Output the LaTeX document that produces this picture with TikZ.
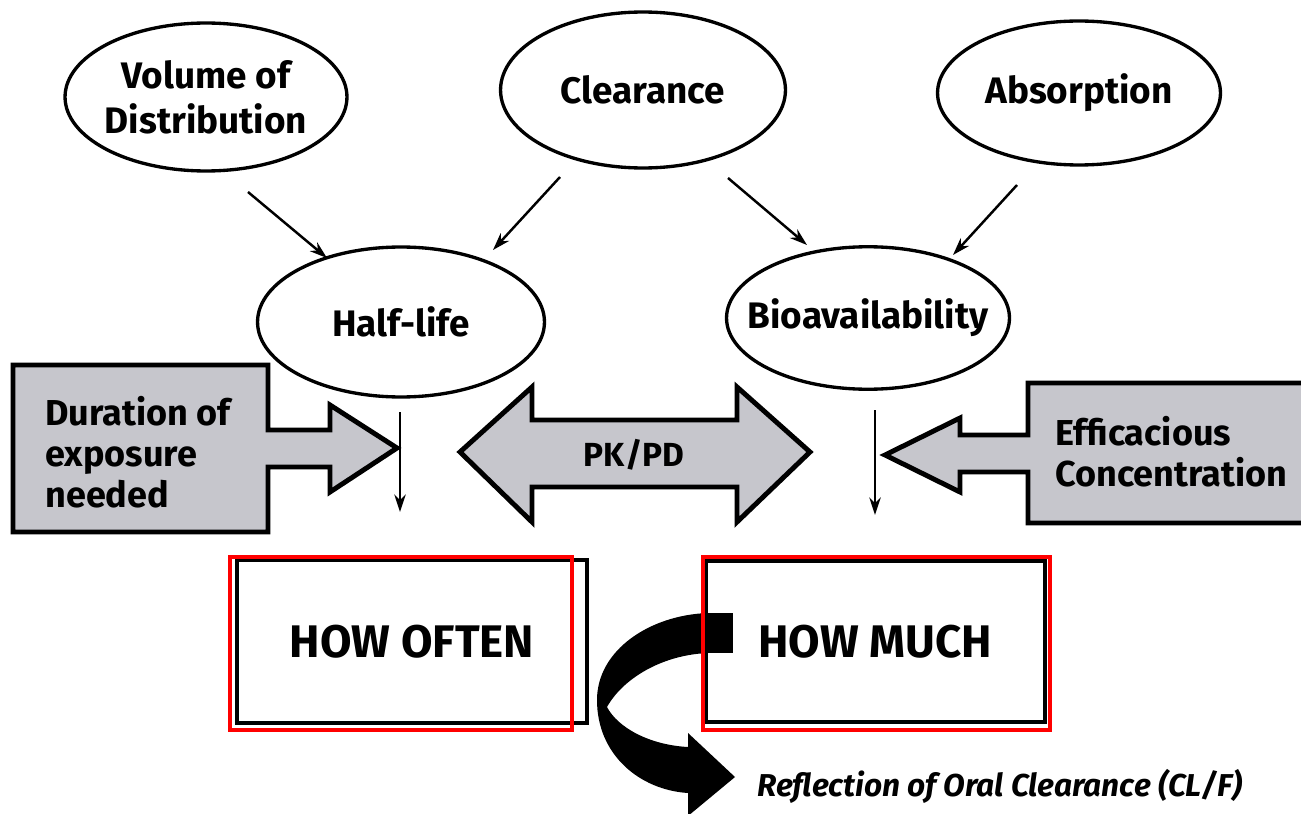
\documentclass[tikz,border=0pt]{standalone}
\usepackage{fontspec}
\setmainfont{Fira Sans}
\usetikzlibrary{shapes.geometric,calc,arrows.meta}
\definecolor{fatgray}{RGB}{198,198,204}
\definecolor{boxred}{RGB}{255,0,0}
\begin{document}
\begin{tikzpicture}[x=0.02cm,y=-0.02cm,
  oval/.style={ellipse,draw,line width=1.9pt,inner xsep=-18pt,inner ysep=0pt,align=center,
    font=\bfseries\fontsize{21}{25.5}\selectfont},
  thinarr/.style={-{Stealth[length=10pt,width=6.5pt]},line width=1.4pt},
  fat/.style={fill=fatgray,draw,line width=2.8pt,line join=miter},
  lbl/.style={font=\bfseries\fontsize{20.5}{23.5}\selectfont,align=left,inner sep=0pt},
  qbox/.style={draw,line width=2.8pt,inner sep=0pt,
    font=\bfseries\fontsize{26}{30}\selectfont},
  redbox/.style={draw=boxred,line width=2.3pt}
]
\useasboundingbox (0,0) rectangle (1301,814);
\clip (0,0) rectangle (1301,814);
\fill[white] (0,0) rectangle (1301,814);

% ellipses
\node[oval,minimum width=5.64cm,minimum height=2.96cm] (vd) at (206,97) {Volume of\\Distribution};
\node[oval,minimum width=5.7cm,minimum height=3.12cm] (cl) at (643,90) {Clearance};
\node[oval,minimum width=5.66cm,minimum height=2.88cm] (ab) at (1079,93) {Absorption};
\node[oval,minimum width=5.74cm,minimum height=3.0cm] (hl) at (401,322) {Half-life};
\node[oval,minimum width=5.66cm,minimum height=2.85cm] (bio) at (868,318) {Bioavailability};

% thin arrows
\draw[thinarr] ($(vd.center)+(42,95)$) -- ($(hl.center)+(-74,-64)$);
\draw[thinarr] ($(cl.center)+(-83,87)$) -- ($(hl.center)+(92,-72)$);
\draw[thinarr] ($(cl.center)+(85,88)$) -- ($(bio.center)+(-61,-73)$);
\draw[thinarr] ($(ab.center)+(-62,92)$) -- ($(bio.center)+(85,-63)$);

% boxes
\node[qbox,minimum width=7cm,minimum height=3.26cm] (often) at (412,641.5) {HOW OFTEN};
\node[qbox,minimum width=6.8cm,minimum height=3.22cm] (much) at (875,641.5) {HOW MUCH};

% vertical arrows
\draw[thinarr] ($(hl.center)+(-1,90)$) -- ($(hl.center)+(-1,190)$);
\draw[thinarr] ($(bio.center)+(7,92)$) -- ($(bio.center)+(7,197)$);

% fat arrows
\draw[fat] (13,365) -- (268,365) -- (268,430) -- (330,430) -- (330,405) -- (397,448)
  -- (330,492) -- (330,467) -- (268,467) -- (268,532) -- (13,532) -- cycle;
\node[lbl,anchor=west] (dur) at (45,452) {Duration of\\exposure\\needed};

\draw[fat] (1028,383) -- (1320,383) -- (1320,523) -- (1028,523) -- (1028,472) -- (960,472)
  -- (960,492) -- (885,455) -- (960,418) -- (960,435) -- (1028,435) -- cycle;
\node[lbl,anchor=west] (eff) at (1055,452) {Efficacious\\Concentration};

\draw[fat] (460,452) -- (532,387) -- (532,420) -- (737,420) -- (737,387) -- (810,452)
  -- (737,522) -- (737,487) -- (532,487) -- (532,522) -- cycle;
\node[lbl,font=\bfseries\fontsize{19}{22}\selectfont] (pkpd) at (634,455) {PK/PD};

% curved arrow
\fill (708,613) rectangle (733,653);
\fill (708,613) .. controls (650,615) and (597,650) .. (597,700)
  .. controls (597,755) and (640,790) .. (688,793) -- (688,816) -- (735,777)
  -- (688,733) -- (688,747) .. controls (650,745) and (618,728) .. (607,707)
  .. controls (622,680) and (660,655) .. (708,653) -- cycle;
\node[font=\bfseries\itshape\fontsize{18}{21}\selectfont,anchor=west,inner sep=0pt] (refl) at (757,786) {Reflection of Oral Clearance (CL/F)};

% red highlight boxes
\draw[redbox] (230,557) rectangle (572,730);
\draw[redbox] (703,557) rectangle (1050,730);
\end{tikzpicture}
\end{document}
